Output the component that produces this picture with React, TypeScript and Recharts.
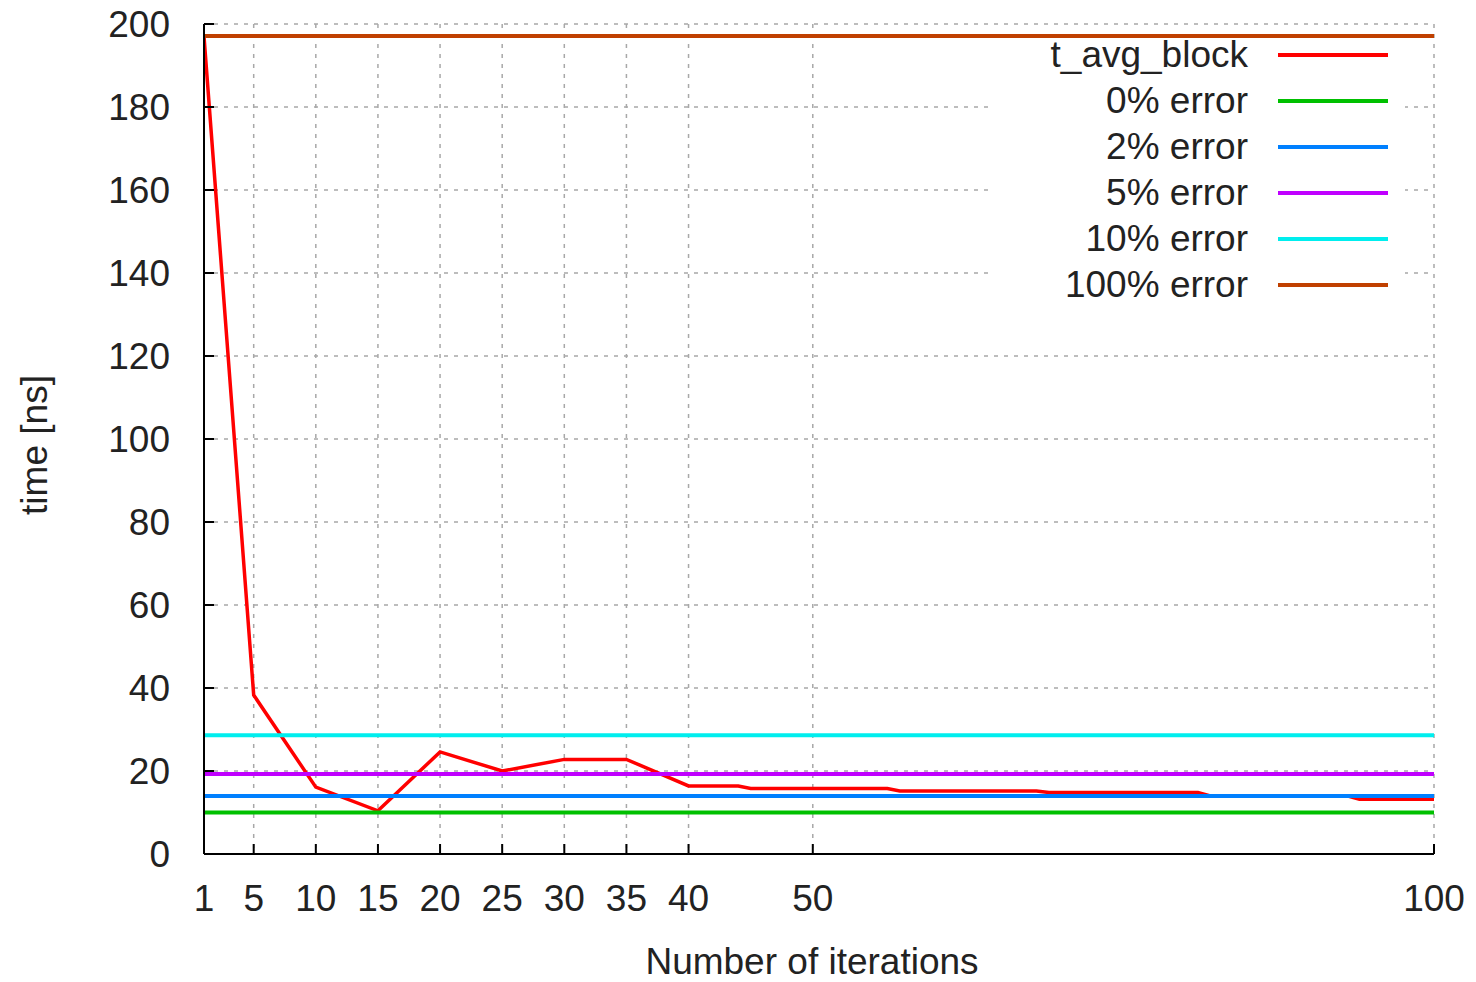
import React from "react";
import {
  LineChart,
  Line,
  XAxis,
  YAxis,
  CartesianGrid,
  Legend,
} from "recharts";

const iterations = [1, 5, 10, 15, 20, 25, 30, 35, 40, 44, 45, 56, 57, 68, 69, 81, 82, 93, 94, 100];
const tAvgBlock = [197, 38.3, 16.1, 10.4, 24.6, 20.0, 22.8, 22.8, 16.4, 16.4, 15.8, 15.8, 15.2, 15.2, 14.8, 14.8, 14.0, 14.0, 13.2, 13.2];

// horizontal error levels
const errorNames = ["0% error", "2% error", "5% error", "10% error", "100% error"];
const errorLevels = [10.0, 14.0, 19.3, 28.6, 197.1];
const errorColors = ["#00c000", "#0080ff", "#c000ff", "#00eeee", "#c04000"];

const xTicks = [1, 5, 10, 15, 20, 25, 30, 35, 40, 50, 100];
const yTicks = [0, 20, 40, 60, 80, 100, 120, 140, 160, 180, 200];

const FONT = "'Liberation Sans', Arial, sans-serif";
const TEXT = "#222";
const BORDER = { stroke: "#000", strokeWidth: 2 };

const tData = iterations.map((x, i) => ({ x, t: tAvgBlock[i] }));
const errorData = errorLevels.map((v) => [
  { x: xTicks[0], v },
  { x: xTicks[xTicks.length - 1], v },
]);

const legendItems = [
  { name: "t_avg_block", color: "#ff0000" },
  ...errorNames.map((name, i) => ({ name, color: errorColors[i] })),
];

function renderLegend() {
  return (
    <div style={{ marginTop: -7, fontFamily: FONT }}>
      {legendItems.map((it) => (
        <div
          key={it.name}
          style={{ display: "flex", alignItems: "center", height: 46 }}
        >
          <span
            style={{
              width: 255,
              textAlign: "right",
              fontSize: 37,
              color: TEXT,
              lineHeight: "46px",
            }}
          >
            {it.name}
          </span>
          <span
            style={{
              marginLeft: 30,
              width: 110,
              height: 4,
              background: it.color,
            }}
          />
        </div>
      ))}
    </div>
  );
}

function YTitle({ viewBox }: any) {
  const cx = viewBox.x + 34;
  const cy = viewBox.y + viewBox.height / 2 + 6;
  return (
    <text
      x={cx}
      y={cy}
      transform={`rotate(-90 ${cx} ${cy})`}
      textAnchor="middle"
      dominantBaseline="central"
      fontSize={37}
      fill={TEXT}
      fontFamily={FONT}
    >
      time [ns]
    </text>
  );
}

export default function App() {
  return (
    <div style={{ position: "absolute", left: 0, top: 0, background: "#fff" }}>
      <LineChart
        width={1476}
        height={982}
        margin={{ top: 24, right: 42, left: 0, bottom: 0 }}
        style={{ fontFamily: FONT }}
      >
        <CartesianGrid stroke="#a8a8a8" strokeWidth={1.5} strokeDasharray="4 6" />
        <XAxis
          dataKey="x"
          type="number"
          domain={[1, 100]}
          ticks={xTicks}
          interval={0}
          height={128}
          axisLine={BORDER}
          tickLine={BORDER}
          tickSize={-10}
          tickMargin={41}
          tick={{ fontSize: 37, fill: TEXT }}
          allowDataOverflow
          label={{
            value: "Number of iterations",
            position: "insideBottom",
            offset: 8,
            dx: -7,
            fontSize: 37,
            fill: TEXT,
          }}
        />
        <XAxis
          xAxisId="top"
          orientation="top"
          type="number"
          domain={[1, 100]}
          ticks={xTicks}
          interval={0}
          height={0}
          axisLine={BORDER}
          tickLine={BORDER}
          tickSize={-10}
          tick={false}
          allowDataOverflow
        />
        <YAxis
          type="number"
          domain={[0, 200]}
          ticks={yTicks}
          interval={0}
          width={204}
          axisLine={BORDER}
          tickLine={BORDER}
          tickSize={-10}
          tickMargin={44}
          tick={{ fontSize: 37, fill: TEXT }}
          allowDataOverflow
          label={<YTitle />}
        />
        <YAxis
          yAxisId="right"
          orientation="right"
          type="number"
          domain={[0, 200]}
          ticks={yTicks}
          interval={0}
          width={0}
          axisLine={BORDER}
          tickLine={BORDER}
          tickSize={-10}
          tick={false}
          allowDataOverflow
        />
        <Line
          data={tData}
          dataKey="t"
          name="t_avg_block"
          type="linear"
          stroke="#ff0000"
          strokeWidth={3.5}
          dot={false}
          isAnimationActive={false}
        />
        {errorData.map((d, i) => (
          <Line
            key={errorNames[i]}
            data={d}
            dataKey="v"
            name={errorNames[i]}
            type="linear"
            stroke={errorColors[i]}
            strokeWidth={4}
            dot={false}
            isAnimationActive={false}
          />
        ))}
        <Legend
          layout="vertical"
          align="center"
          verticalAlign="middle"
          content={renderLegend}
          wrapperStyle={{
            left: 993,
            top: 39,
            width: 412,
            height: 266,
            background: "#fff",
          }}
        />
      </LineChart>
    </div>
  );
}
